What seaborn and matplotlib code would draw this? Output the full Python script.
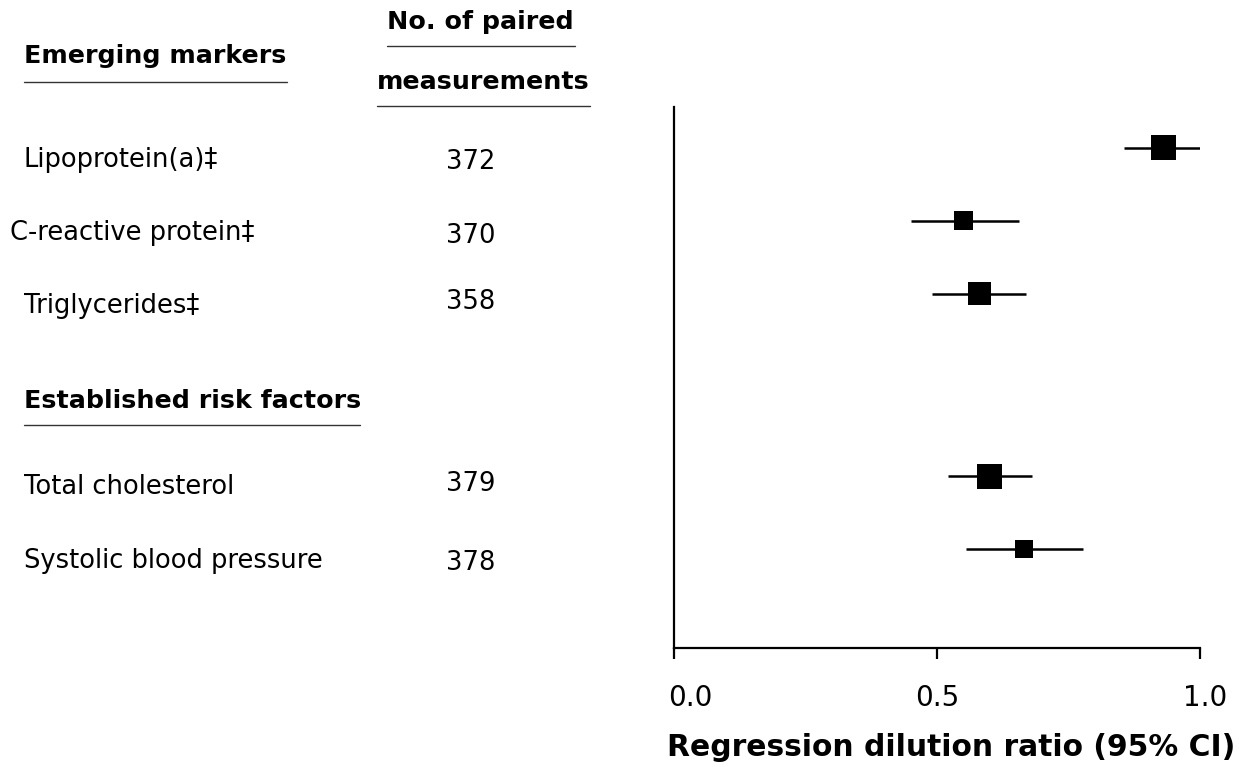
import numpy as np
import pandas as pd
import matplotlib
matplotlib.use("Agg")
import matplotlib.pyplot as plt
import matplotlib.transforms as mtransforms
from matplotlib.lines import Line2D
import seaborn as sns

# ---------------- data ----------------
emerging_markers = ["Lipoprotein(a)\u2021", "C-reactive protein\u2021", "Triglycerides\u2021"]
established_factors = ["Total cholesterol", "Systolic blood pressure"]
paired_n = [372, 370, 358, 379, 378]
ratio = [0.93, 0.55, 0.58, 0.60, 0.665]
ci_low = [0.855, 0.45, 0.49, 0.52, 0.555]
ci_high = [1.01, 0.655, 0.67, 0.68, 0.778]
weight_px = [25, 19, 23, 25, 18]  # square side (px) as drawn
xticks = [0.0, 0.5, 1.0]
xtick_labels = ["0.0", "0.5", "1.0"]

W, H, DPI = 1243, 767, 100
sns.set_style("white")
plt.rcParams["font.family"] = ["DejaVu Sans"]
plt.rcParams["text.color"] = "black"

fig = plt.figure(figsize=(W / DPI, H / DPI), dpi=DPI)

def fx(px):
    return px / W

def fy(py):
    return 1 - py / H

ax = fig.add_axes([fx(674), fy(648), fx(1200) - fx(674), fy(107) - fy(648)])

labels = emerging_markers + established_factors
rows = [0, 1, 2, 4.5, 5.5]
df = pd.DataFrame({
    "label": labels,
    "row": rows,
    "ratio": ratio,
    "lo": ci_low,
    "hi": ci_high,
    "s": [(p * 0.72) ** 2 for p in weight_px],
})

ax.hlines(df["row"], df["lo"], df["hi"], color="black", linewidth=1.8, zorder=2)
sns.scatterplot(data=df, x="ratio", y="row", marker="s", color="black",
                s=df["s"].values, linewidth=0, ax=ax, zorder=3, legend=False)

ax.set_xlim(0, 1.0)
ax.set_ylim(6.85, -0.56)
ax.set_xticks(xticks)
ax.set_xticklabels(xtick_labels, fontsize=20, color="black")
ax.set_yticks([])
ax.set_ylabel("")
ax.set_xlabel("")
ax.tick_params(axis="x", bottom=True, direction="out", length=8, width=1.6,
               color="black", pad=18)
# small horizontal nudges of tick labels as in the original figure
for lbl, dx in zip(ax.get_xticklabels(), [16, 0, 5]):
    lbl.set_transform(lbl.get_transform() +
                      mtransforms.ScaledTranslation(dx / DPI, 0, fig.dpi_scale_trans))
for side in ["top", "right"]:
    ax.spines[side].set_visible(False)
for side in ["left", "bottom"]:
    ax.spines[side].set_color("black")
    ax.spines[side].set_linewidth(1.6)

fig.text(fx(951), fy(747), "Regression dilution ratio (95% CI)", fontsize=21.4,
         fontweight="bold", ha="center", va="center")

# ---------------- left table ----------------
reg = 18.5
bold = 18.3
label_y = [160, 233, 306, 487, 561]
label_x = [24, 10, 24, 24, 24]
num_y = [162, 236, 302, 484, 563]
for lab, x, y in zip(labels, label_x, label_y):
    fig.text(fx(x), fy(y), lab, fontsize=reg, ha="left", va="center")
for n, y in zip(paired_n, num_y):
    fig.text(fx(471), fy(y), str(n), fontsize=reg, ha="center", va="center")

fig.text(fx(24), fy(56), "Emerging markers", fontsize=bold, fontweight="bold",
         ha="left", va="center")
fig.text(fx(24), fy(401), "Established risk factors", fontsize=bold, fontweight="bold",
         ha="left", va="center")
fig.text(fx(480), fy(22), "No. of paired", fontsize=bold, fontweight="bold",
         ha="center", va="center")
fig.text(fx(483), fy(82), "measurements", fontsize=bold, fontweight="bold",
         ha="center", va="center")

for x0, x1, y in [(24, 287, 82), (387, 575, 46), (377, 590, 106), (24, 360, 425)]:
    fig.add_artist(Line2D([fx(x0), fx(x1)], [fy(y), fy(y)], color="#333333",
                          linewidth=1.0, transform=fig.transFigure))

fig.savefig("out.png", dpi=DPI)
